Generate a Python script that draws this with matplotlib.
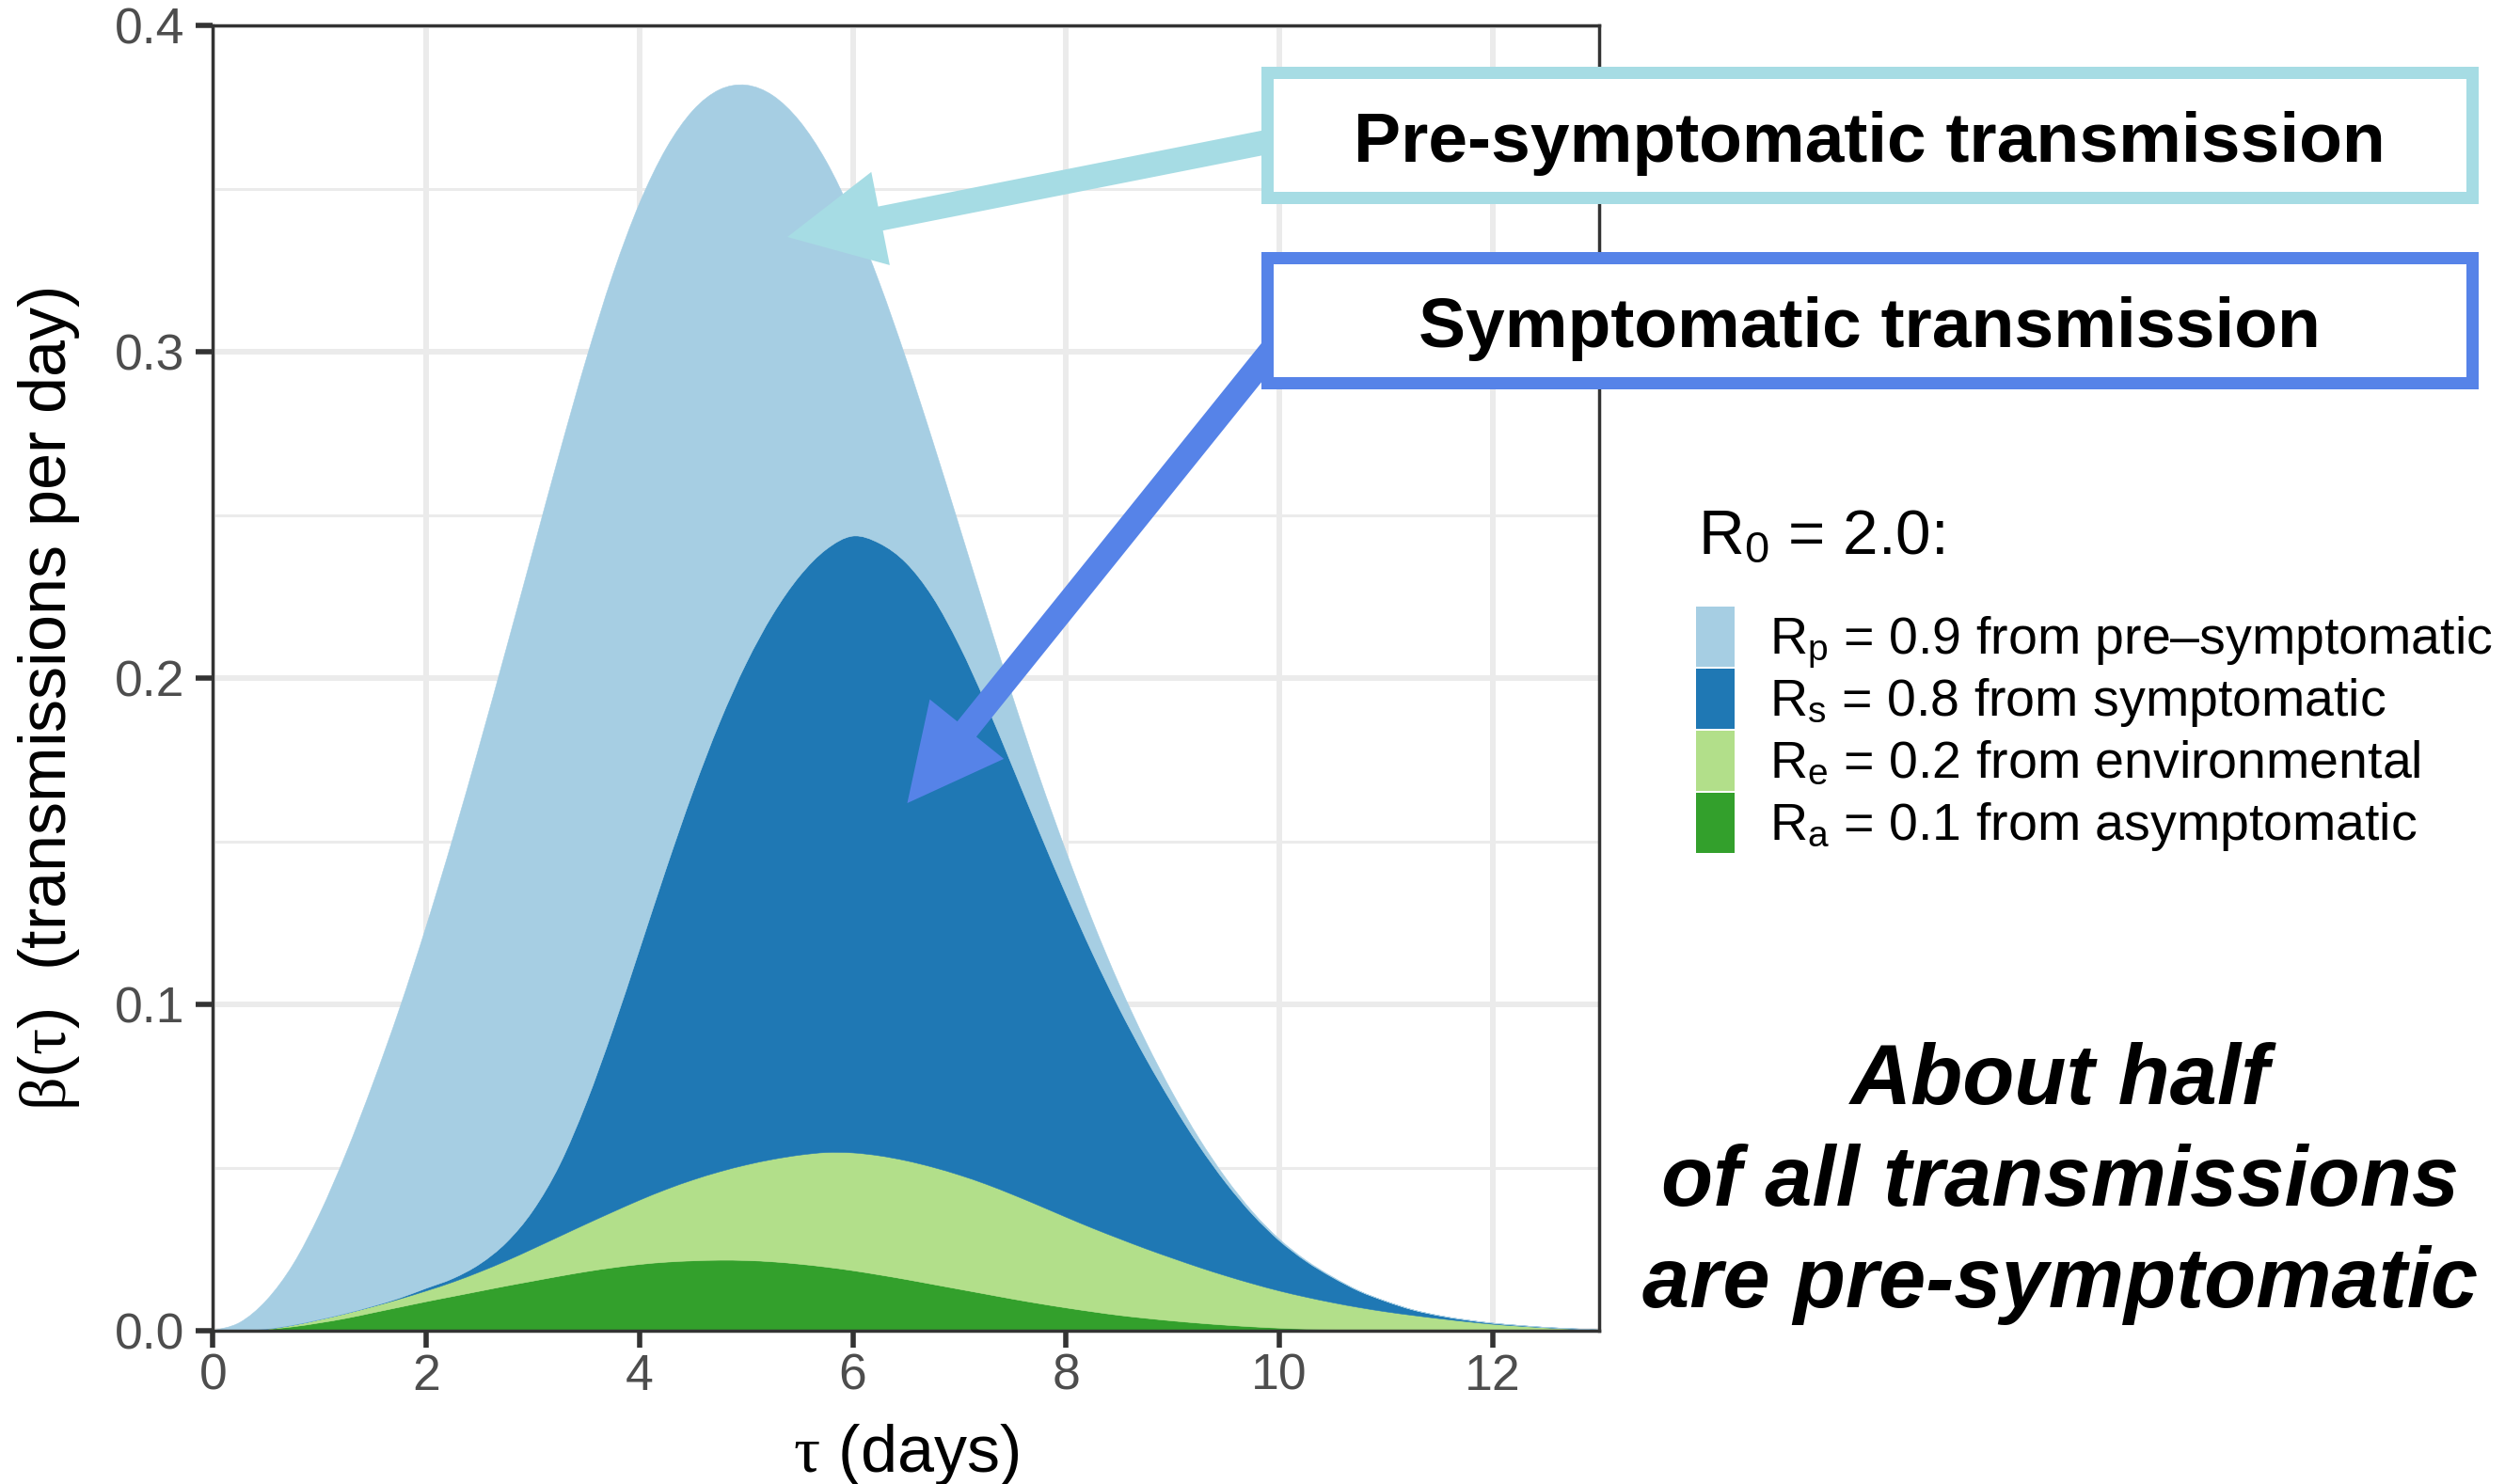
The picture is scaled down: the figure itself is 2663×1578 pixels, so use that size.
import matplotlib
matplotlib.use("Agg")
import matplotlib.pyplot as plt
import numpy as np
from matplotlib.patches import Rectangle, FancyArrow, PathPatch
from matplotlib.path import Path
from matplotlib.transforms import IdentityTransform

plt.rcParams["font.family"] = ["Liberation Sans", "DejaVu Sans"]
plt.rcParams["mathtext.fontset"] = "custom"
plt.rcParams["mathtext.rm"] = "Liberation Sans"
plt.rcParams["mathtext.it"] = "Liberation Serif"
plt.rcParams["mathtext.bf"] = "Liberation Sans:bold"

# ---- data: infectiousness beta(tau) split by route (transmissions per day) ----
tau_days = [0.0, 0.25, 0.5, 0.75, 1.0, 1.25, 1.5, 1.75, 2.0, 2.25, 2.5, 2.75,
            3.0, 3.25, 3.5, 3.75, 4.0, 4.25, 4.5, 4.75, 5.0, 5.25, 5.5, 5.75,
            6.0, 6.25, 6.5, 6.75, 7.0, 7.25, 7.5, 7.75, 8.0, 8.25, 8.5, 8.75,
            9.0, 9.25, 9.5, 9.75, 10.0, 10.25, 10.5, 10.75, 11.0, 11.25, 11.5,
            11.75, 12.0, 12.25, 12.5, 12.75, 13.0]

asymptomatic = [0.0, 0.0001, 0.0004, 0.0012, 0.0024, 0.0038, 0.0055, 0.0072,
                0.0089, 0.0105, 0.0121, 0.0137, 0.0152, 0.0167, 0.0181, 0.0193,
                0.0203, 0.0210, 0.0214, 0.0216, 0.0215, 0.0211, 0.0204, 0.0195,
                0.0184, 0.0171, 0.0157, 0.0142, 0.0127, 0.0112, 0.0097, 0.0083,
                0.0070, 0.0058, 0.0047, 0.0038, 0.0030, 0.0023, 0.0017, 0.0012,
                0.0008, 0.0005, 0.0003, 0.0002, 0.0001, 0.0, 0.0, 0.0, 0.0,
                0.0, 0.0, 0.0, 0.0]

environmental = [0.0, 0.0, 0.0001, 0.0005, 0.0010, 0.0015, 0.0019, 0.0025,
                 0.0033, 0.0044, 0.0059, 0.0077, 0.0099, 0.0122, 0.0146, 0.0171,
                 0.0197, 0.0223, 0.0248, 0.0271, 0.0293, 0.0314, 0.0334, 0.0351,
                 0.0361, 0.0365, 0.0364, 0.0359, 0.0350, 0.0337, 0.0320, 0.0300,
                 0.0278, 0.0256, 0.0235, 0.0213, 0.0192, 0.0171, 0.0151, 0.0132,
                 0.0114, 0.0098, 0.0083, 0.0069, 0.0057, 0.0047, 0.0037, 0.0028,
                 0.0020, 0.0014, 0.0009, 0.0005, 0.0002]

symptomatic = [0.0, 0.0, 0.0, 0.0, 0.0, 0.0, 0.0001, 0.0003, 0.0008, 0.0011,
               0.0024, 0.0056, 0.0117, 0.0219, 0.0371, 0.0559, 0.0768, 0.0983,
               0.1189, 0.1376, 0.1537, 0.1670, 0.1774, 0.1848, 0.1890, 0.1877,
               0.1832, 0.1747, 0.1623, 0.1473, 0.1310, 0.1146, 0.0989, 0.0841,
               0.0705, 0.0583, 0.0472, 0.0372, 0.0285, 0.0212, 0.0154, 0.0110,
               0.0077, 0.0050, 0.0032, 0.0017, 0.0009, 0.0005, 0.0003, 0.0002,
               0.0001, 0.0001, 0.0]

presymptomatic = [0.0, 0.0024, 0.0088, 0.0186, 0.0324, 0.0493, 0.0683, 0.0888,
                  0.1110, 0.1350, 0.1591, 0.1820, 0.2022, 0.2182, 0.2279, 0.2314,
                  0.2287, 0.2207, 0.2088, 0.1940, 0.1772, 0.1590, 0.1395, 0.1190,
                  0.0981, 0.0798, 0.0625, 0.0478, 0.0364, 0.0278, 0.0215, 0.0168,
                  0.0132, 0.0100, 0.0073, 0.0051, 0.0034, 0.0022, 0.0014, 0.0008,
                  0.0005, 0.0003, 0.0002, 0.0001, 0.0, 0.0, 0.0, 0.0, 0.0, 0.0,
                  0.0, 0.0, 0.0]

# stacking order, bottom to top
layer_names = ["asymptomatic", "environmental", "symptomatic", "pre-symptomatic"]
layer_colors = ["#33A02C", "#B2DF8A", "#1F78B4", "#A6CEE3"]

legend_labels = [r"$\mathrm{R}_{\mathrm{p}}$ = 0.9 from pre–symptomatic",
                 r"$\mathrm{R}_{\mathrm{s}}$ = 0.8 from symptomatic",
                 r"$\mathrm{R}_{\mathrm{e}}$ = 0.2 from environmental",
                 r"$\mathrm{R}_{\mathrm{a}}$ = 0.1 from asymptomatic"]
legend_colors = ["#A6CEE3", "#1F78B4", "#B2DF8A", "#33A02C"]
legend_title = r"$\mathrm{R}_{\mathrm{0}}$ = 2.0:"

x_ticks = [0, 2, 4, 6, 8, 10, 12]
y_ticks = [0.0, 0.1, 0.2, 0.3, 0.4]
y_tick_labels = ["0.0", "0.1", "0.2", "0.3", "0.4"]
y_minor = [0.05, 0.15, 0.25, 0.35]


def smooth_segments(xs, ys, first_code):
    """Cubic Bezier pieces passing through every (x, y) sample."""
    pts = np.column_stack([xs, ys])
    n = len(pts)
    verts = [pts[0]]
    codes = [first_code]
    for i in range(n - 1):
        p0 = pts[i - 1] if i > 0 else pts[i]
        p1, p2 = pts[i], pts[i + 1]
        p3 = pts[i + 2] if i + 2 < n else pts[i + 1]
        verts += [p1 + (p2 - p0) / 6.0, p2 - (p3 - p1) / 6.0, p2]
        codes += [Path.CURVE4] * 3
    return verts, codes


def band_path(xs, lower, upper):
    v_up, c_up = smooth_segments(xs, upper, Path.MOVETO)
    v_lo, c_lo = smooth_segments(xs[::-1], lower[::-1], Path.LINETO)
    verts = v_up + v_lo + [v_up[0]]
    codes = c_up + c_lo + [Path.CLOSEPOLY]
    return Path(np.array(verts), codes)


# ---- figure ----
W, H = 2663, 1578
fig = plt.figure(figsize=(W / 100, H / 100), dpi=100)
fig.patch.set_facecolor("white")


def fy(y):
    return 1 - y / H


ax = fig.add_axes([226.5 / W, fy(1415), (1700 - 226.5) / W, (1415 - 27) / H])
ax.set_xlim(0, 13)
ax.set_ylim(0, 0.4)

x = np.array(tau_days)
layers = [np.array(asymptomatic), np.array(environmental),
          np.array(symptomatic), np.array(presymptomatic)]
base = np.zeros_like(x)
for vals, col in zip(layers, layer_colors):
    top = base + vals
    ax.add_patch(PathPatch(band_path(x, base, top), facecolor=col,
                           edgecolor=col, linewidth=0.4, zorder=1))
    base = top

ax.set_xticks(x_ticks)
ax.set_xticklabels([str(t) for t in x_ticks])
ax.set_yticks(y_ticks)
ax.set_yticklabels(y_tick_labels)
ax.set_yticks(y_minor, minor=True)
ax.set_axisbelow(True)
ax.grid(which="major", color="#EBEBEB", linewidth=4.3)
ax.grid(which="minor", axis="y", color="#EBEBEB", linewidth=2.2)
ax.tick_params(which="major", length=13, width=4, color="#333333",
               labelsize=38.5, labelcolor="#4D4D4D")
ax.tick_params(axis="x", pad=4)
ax.tick_params(axis="y", pad=9)
ax.tick_params(which="minor", length=0)
for sp in ax.spines.values():
    sp.set_color("#333333")
    sp.set_linewidth(2.5)
    sp.set_zorder(3)

# axis titles
fig.text(963 / W, fy(1565), r"$\tau$ (days)", ha="center", va="baseline",
         fontsize=50.5, color="black")
fig.text(52 / W, fy(743), r"$\beta(\tau)$  (transmissions per day)",
         rotation=90, ha="center", va="center", fontsize=50.5, color="black")

# ---- legend ----
fig.text(1805 / W, fy(589), legend_title, ha="left", va="baseline",
         fontsize=48.5, color="black")
key_top = 645
key_h = 64
key_step = 66
for i, (lab, col) in enumerate(zip(legend_labels, legend_colors)):
    y0 = key_top + i * key_step
    fig.patches.append(Rectangle((1803, H - (y0 + key_h)), 41, key_h,
                                 transform=IdentityTransform(),
                                 facecolor=col, edgecolor="none", figure=fig))
    fig.text(1881 / W, fy(y0 + key_h / 2 + 18), lab, ha="left", va="baseline",
             fontsize=40, color="black")

# ---- call-out arrows and boxes ----
arrow_specs = [((1352, 150), (837, 252), "#A6DCE4"),
               ((1352, 372), (964.5, 854), "#5683E8")]
for (sx, sy), (ex, ey), col in arrow_specs:
    fig.patches.append(FancyArrow(sx, H - sy, ex - sx, -(ey - sy), width=26,
                                  head_width=101, head_length=101,
                                  length_includes_head=True,
                                  transform=IdentityTransform(),
                                  facecolor=col, edgecolor="none", zorder=4,
                                  figure=fig))

box_specs = [("Pre-symptomatic transmission", 70, "#A6DCE4"),
             ("Symptomatic transmission", 267, "#5683E8")]
for text, top, col in box_specs:
    bw = 13
    left, right, bottom = 1340, 2634, top + 146
    fig.patches.append(Rectangle((left + bw / 2, H - (bottom - bw / 2)),
                                 right - left - bw, bottom - top - bw,
                                 transform=IdentityTransform(),
                                 facecolor="white", edgecolor=col,
                                 linewidth=bw * 72 / 100, joinstyle="miter",
                                 zorder=5, figure=fig))
    fig.text((left + right) / 2 / W, fy(top + 102), text, ha="center",
             va="baseline", fontsize=54, fontweight="bold", color="black",
             zorder=6)

# ---- take-home message ----
message = ["About half", "of all transmissions", "are pre-symptomatic"]
for line, base_y in zip(message, [1174, 1282, 1390]):
    fig.text(2190 / W, fy(base_y), line, ha="center", va="baseline",
             fontsize=65, fontweight="bold", fontstyle="italic", color="black")

fig.savefig("out.png", dpi=100, facecolor="white")
